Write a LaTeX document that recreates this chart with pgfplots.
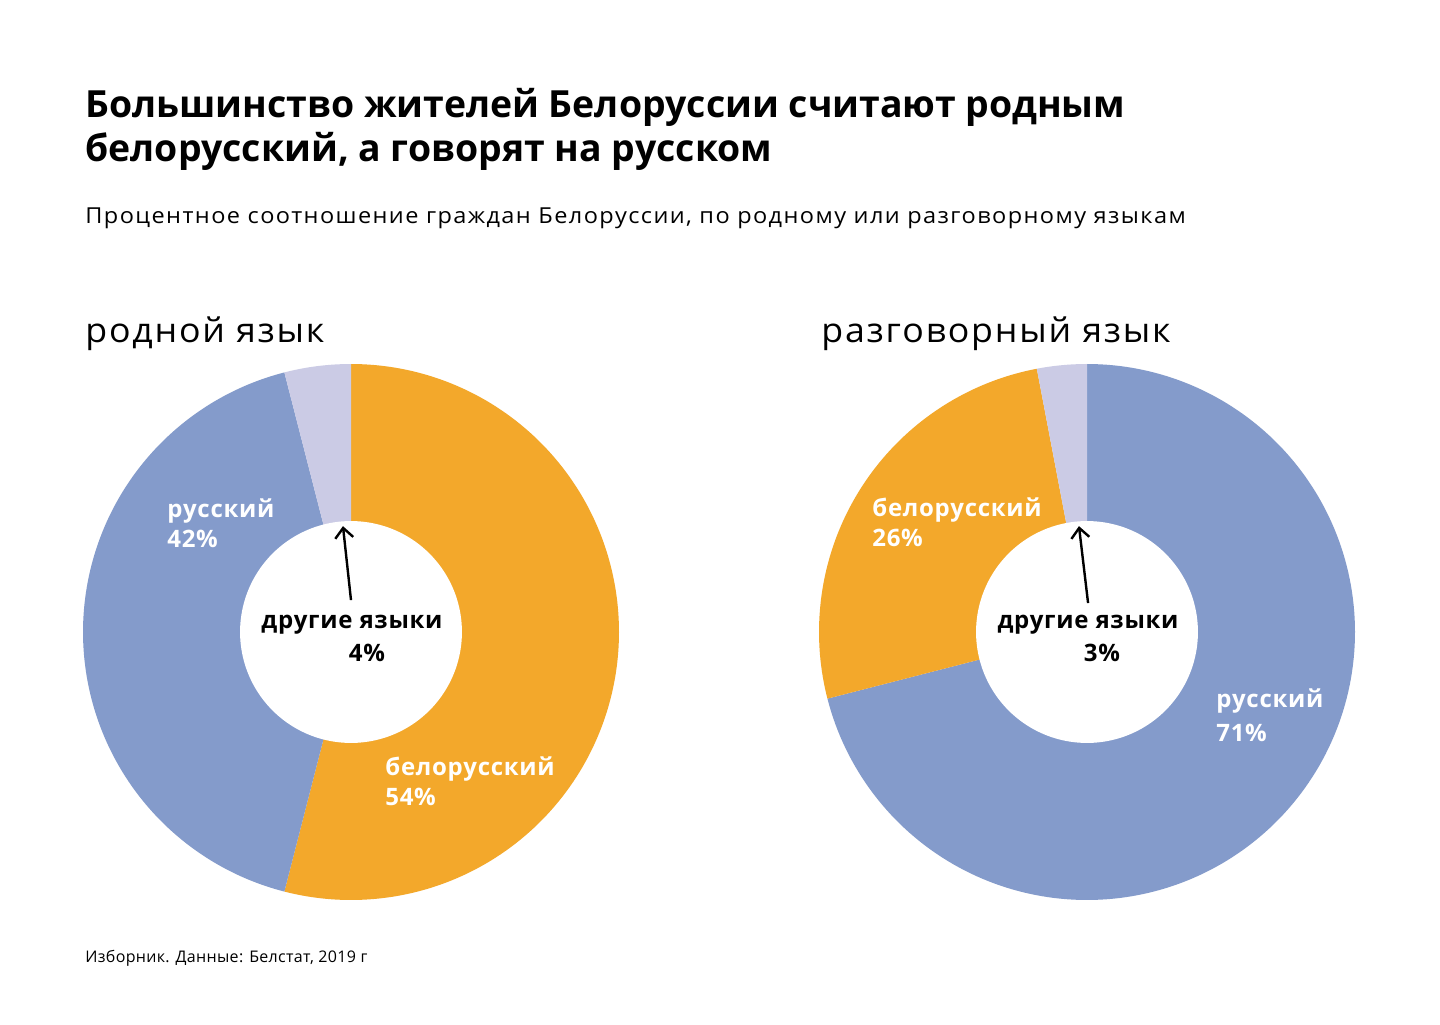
\documentclass[border=0pt]{standalone}
\usepackage{pgfplots}
\pgfplotsset{compat=1.18}
\usetikzlibrary{arrows.meta}
\usepackage{fontspec}
\setmainfont{Open Sans}
\definecolor{orng}{HTML}{F3A82B}
\definecolor{blu}{HTML}{849BCB}
\definecolor{lav}{HTML}{CBCBE5}
\newcommand{\ls}[1]{\addfontfeatures{LetterSpace=#1}}
\begin{document}
\begin{tikzpicture}[x=0.5pt,y=0.5pt]
\path[fill=white,use as bounding box] (0,0) rectangle (1440,1024);
% titles (y given as 1024 - pixel row)
\node[anchor=base west,inner sep=0,font=\fontsize{18.7pt}{21.5pt}\selectfont\bfseries] at (85,{1024-118}) {Большинство жителей Белоруссии считают родным};
\node[anchor=base west,inner sep=0,font=\fontsize{18.7pt}{21.5pt}\selectfont\bfseries] at (85,{1024-162}) {белорусский, а говорят на русском};
\node[anchor=base west,inner sep=0,font=\fontsize{11pt}{13pt}\selectfont] at (85,{1024-224}) {\scalebox{1.07}[1]{\ls{6}Процентное соотношение граждан Белоруссии, по родному или разговорному языкам}};
\node[anchor=base west,inner sep=0,font=\fontsize{17pt}{20pt}\selectfont] at (85,{1024-343}) {\scalebox{1.05}[1]{\ls{5}родной язык}};
\node[anchor=base west,inner sep=0,font=\fontsize{17pt}{20pt}\selectfont] at (821,{1024-343}) {\scalebox{1.05}[1]{\ls{5}разговорный язык}};
\node[anchor=base west,inner sep=0,font=\fontsize{8pt}{10pt}\selectfont\ls{2}] at (85,{1024-962}) {Изборник. Данные: Белстат, 2019 г};
% left donut: белорусский 54, русский 42, другие 4
\begin{axis}[at={(175.5pt,196pt)}, anchor=center, scale only axis, width=268pt, height=268pt,
  xmin=-1, xmax=1, ymin=-1, ymax=1, hide axis, clip=false]
\addplot[draw=none, fill=orng, domain=-104.4:90, samples=150] ({cos(x)},{sin(x)}) -- (axis cs:0,0) -- cycle;
\addplot[draw=none, fill=blu, domain=104.4:255.6, samples=150] ({cos(x)},{sin(x)}) -- (axis cs:0,0) -- cycle;
\addplot[draw=none, fill=lav, domain=90:104.4, samples=20] ({cos(x)},{sin(x)}) -- (axis cs:0,0) -- cycle;
\addplot[draw=none, fill=white, domain=0:360, samples=180] ({0.414*cos(x)},{0.414*sin(x)}) -- cycle;
\draw[line width=1.2pt, -{Straight Barb[length=5pt,width=9pt]}] (axis cs:0,0.119) -- (axis cs:-0.030,0.395);
\end{axis}
% right donut: русский 71, белорусский 26, другие 3
\begin{axis}[at={(543.5pt,196pt)}, anchor=center, scale only axis, width=268pt, height=268pt,
  xmin=-1, xmax=1, ymin=-1, ymax=1, hide axis, clip=false]
\addplot[draw=none, fill=blu, domain=-165.6:90, samples=180] ({cos(x)},{sin(x)}) -- (axis cs:0,0) -- cycle;
\addplot[draw=none, fill=orng, domain=100.8:194.4, samples=80] ({cos(x)},{sin(x)}) -- (axis cs:0,0) -- cycle;
\addplot[draw=none, fill=lav, domain=90:100.8, samples=20] ({cos(x)},{sin(x)}) -- (axis cs:0,0) -- cycle;
\addplot[draw=none, fill=white, domain=0:360, samples=180] ({0.414*cos(x)},{0.414*sin(x)}) -- cycle;
\draw[line width=1.2pt, -{Straight Barb[length=5pt,width=9pt]}] (axis cs:0.004,0.108) -- (axis cs:-0.030,0.395);
\end{axis}
% slice labels
\tikzset{lbl/.style={anchor=base west,inner sep=0,font=\fontsize{12pt}{14pt}\selectfont\bfseries\ls{3}}}
\node[lbl,white] at (167,{1024-518}) {русский};
\node[lbl,white] at (167,{1024-548}) {42\%};
\node[lbl,white] at (385,{1024-775}) {белорусский};
\node[lbl,white] at (385,{1024-805}) {54\%};
\node[lbl,white] at (872,{1024-517}) {белорусский};
\node[lbl,white] at (872,{1024-547}) {26\%};
\node[lbl,white] at (1216,{1024-707}) {русский};
\node[lbl,white] at (1216,{1024-741}) {71\%};
\tikzset{clbl/.style={anchor=base,inner sep=0,font=\fontsize{12pt}{14pt}\selectfont\bfseries\ls{3}}}
\node[clbl] at (352,{1024-628}) {другие языки};
\node[clbl] at (367,{1024-661}) {4\%};
\node[clbl] at (1088,{1024-628}) {другие языки};
\node[clbl] at (1102,{1024-661}) {3\%};
\end{tikzpicture}
\end{document}
